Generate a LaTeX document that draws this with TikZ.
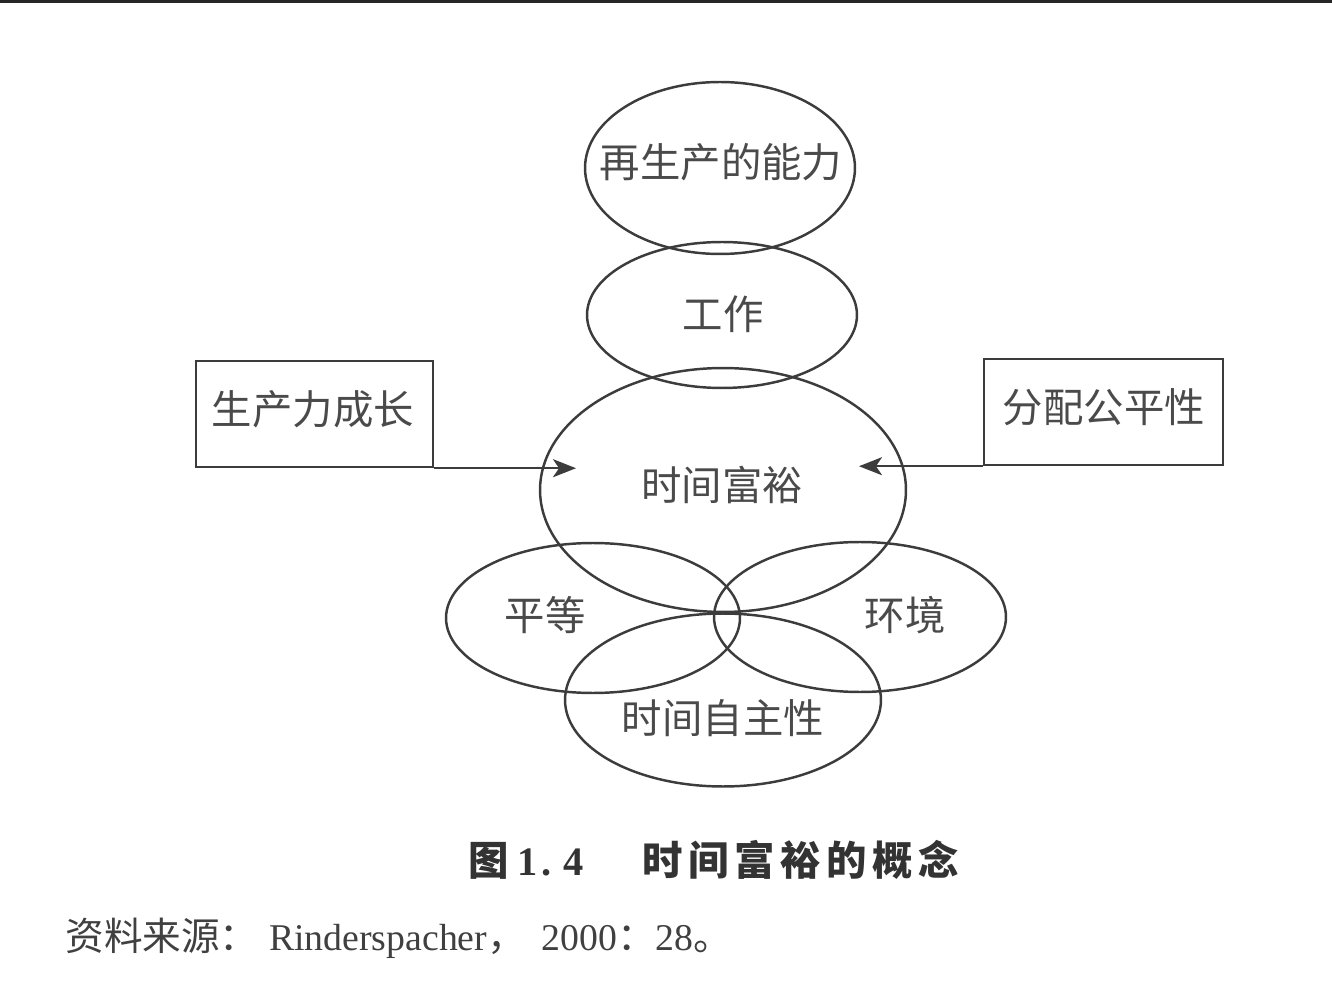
\documentclass[tikz,border=0pt]{standalone}
\usepackage{fontspec}
\setmainfont{Liberation Serif}
\newfontfamily\cjk{Noto Sans CJK SC}
\usetikzlibrary{shapes.geometric,arrows.meta}
\definecolor{ink}{HTML}{3C3C3C}
\definecolor{txt}{HTML}{4A4A4A}
\tikzset{
  ell/.style={draw=ink, line width=1.4pt, ellipse, inner sep=0pt},
  lbl/.style={text=txt, font=\cjk\fontsize{23}{26}\selectfont, inner sep=0pt},
  boxnode/.style={draw=ink, line width=1.4pt, rectangle, inner sep=0pt, minimum height=2.12cm},
  arr/.style={draw=ink, line width=1.4pt, -{Stealth[length=0.46cm, width=0.36cm, inset=0.12cm]}},
}
\newcommand{\cz}{\cjk\fontsize{22}{24}\selectfont}
\newcommand{\lt}{\rmfamily\fontsize{21.5}{24}\selectfont}
\begin{document}
\begin{tikzpicture}[x=0.02cm, y=-0.02cm]
\useasboundingbox (0,0) rectangle (1332,1006);
\fill[black!85] (0,0) rectangle (1332,3);
% ellipses
\node[ell, minimum width=5.4cm, minimum height=3.44cm] (e1) at (720,168) {};
\node[ell, minimum width=5.4cm, minimum height=2.92cm] (e2) at (722,315) {};
\node[ell, minimum width=7.32cm, minimum height=4.88cm] (e3) at (723,490) {};
\node[ell, minimum width=5.88cm, minimum height=3.0cm] (e4) at (593,618) {};
\node[ell, minimum width=5.84cm, minimum height=3.0cm] (e5) at (860,617) {};
\node[ell, minimum width=6.32cm, minimum height=3.46cm] (e6) at (723,700) {};
% labels
\node[lbl] (t1) at (721,162) {再生产的能力};
\node[lbl] (t2) at (723,314) {工作};
\node[lbl] (t3) at (722,485) {时间富裕};
\node[lbl] (t4) at (545,615) {平等};
\node[lbl] (t5) at (905,615) {环境};
\node[lbl] (t6) at (723,718) {时间自主性};
% boxes
\node[boxnode, minimum width=4.74cm] (b1) at (314.5,414) {};
\node[lbl] (bt1) at (313,409) {生产力成长};
\node[boxnode, minimum width=4.78cm] (b2) at (1103.5,412) {};
\node[lbl] (bt2) at (1104,407) {分配公平性};
% arrows
\coordinate (tipL) at (576,467);
\coordinate (tipR) at (859,465);
\draw[arr] (b1.south east) -- (b1.south east -| tipL);
\draw[arr] (b2.south west) -- (b2.south west -| tipR);
% caption
\node[text=black!80, inner sep=0pt, anchor=base west] (cap) at (468,875)
  {\cjk\bfseries\fontsize{23}{26}\selectfont 图\hspace{5.1pt}{\rmfamily\bfseries 1\hspace{2.3pt}.\hspace{6.8pt}4}\hspace{33pt}时\hspace{3.2pt}间\hspace{3.2pt}富\hspace{3.2pt}裕\hspace{3.2pt}的\hspace{3.2pt}概\hspace{3.2pt}念};
% source
\node[text=black!75, anchor=base west, inner sep=0pt] (src) at (65,950)
  {{\cz 资料来源：}\hspace{6pt}{\lt Rinderspacher}{\cz ，}\hspace{9pt}{\lt 2000}{\cz ：}{\lt 28}{\cz 。}};
\end{tikzpicture}
\end{document}
